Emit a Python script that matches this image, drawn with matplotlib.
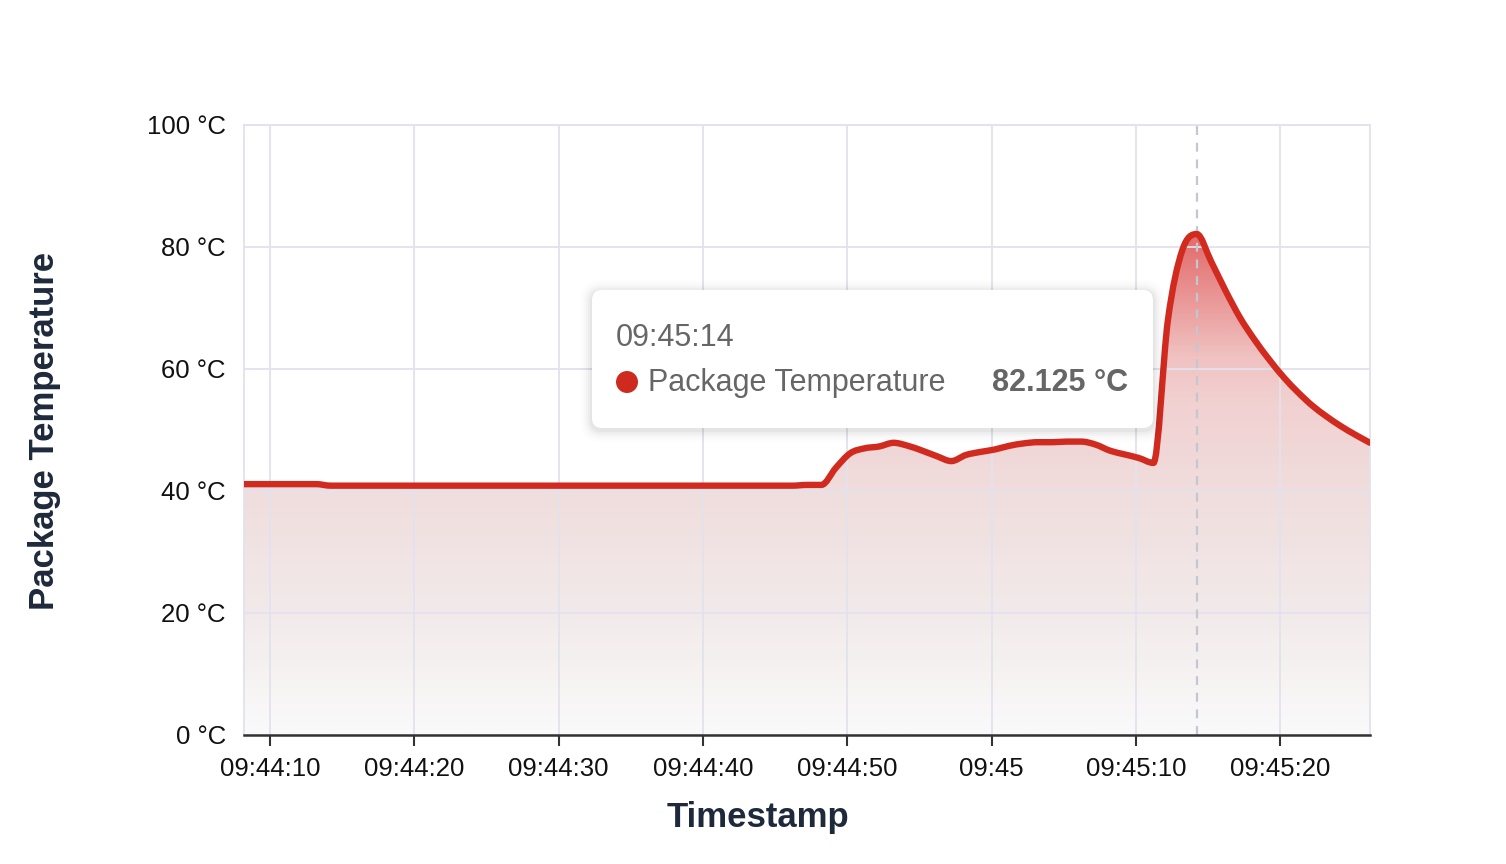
import numpy as np
import matplotlib
matplotlib.use("Agg")
import matplotlib.pyplot as plt
import matplotlib.dates as mdates
from matplotlib.colors import LinearSegmentedColormap
from matplotlib.patches import FancyBboxPatch, Circle, PathPatch
from matplotlib.path import Path
from matplotlib.transforms import IdentityTransform
from datetime import datetime, timedelta

plt.rcParams['font.family'] = ['Liberation Sans', 'DejaVu Sans']

# ---------------- data ----------------
start_time = "2024-01-01 09:44:08.200"
sample_interval_s = 1
temps = [
    41.125, 41.125, 41.125, 41.125, 41.125, 41.125,
    40.875, 40.875, 40.875, 40.875, 40.875, 40.875, 40.875, 40.875, 40.875, 40.875,
    40.875, 40.875, 40.875, 40.875, 40.875, 40.875, 40.875, 40.875, 40.875, 40.875,
    40.875, 40.875, 40.875, 40.875, 40.875, 40.875, 40.875, 40.875, 40.875, 40.875,
    40.875, 40.875, 40.875,
    41.0, 41.0,
    43.8, 46.2, 47.0, 47.3, 47.9, 47.4, 46.6, 45.7, 44.9,
    45.9, 46.4, 46.8, 47.4, 47.8, 48.0, 48.0, 48.1, 48.1, 47.6,
    46.6, 46.0, 45.4, 44.6,
    68.0, 79.5, 82.125, 77.6, 72.8, 68.4, 64.8, 61.6, 58.7, 56.2,
    54.0, 52.2, 50.6, 49.2, 47.9,
]
y_ticks = [0, 20, 40, 60, 80, 100]
series_name = "Package Temperature"
x_title = "Timestamp"
y_title = "Package Temperature"

t0 = datetime.strptime(start_time, "%Y-%m-%d %H:%M:%S.%f")
times = [t0 + timedelta(seconds=i * sample_interval_s) for i in range(len(temps))]
xnum = mdates.date2num(times)
temps_arr = np.array(temps)


def monotone_path(x, y, close_to=None):
    """Cubic Bezier path through the points (monotone tangents, like Chart.js)."""
    n = len(x)
    h = np.diff(x)
    d = np.diff(y) / h
    m = np.zeros(n)
    m[0], m[-1] = d[0], d[-1]
    for k in range(1, n - 1):
        if d[k - 1] * d[k] <= 0:
            m[k] = 0.0
        else:
            m[k] = (d[k - 1] + d[k]) / 2
    for k in range(n - 1):
        if d[k] == 0:
            m[k] = m[k + 1] = 0.0
            continue
        a, b = m[k] / d[k], m[k + 1] / d[k]
        s = a * a + b * b
        if s > 9:
            tau = 3 / np.sqrt(s)
            m[k] = tau * a * d[k]
            m[k + 1] = tau * b * d[k]
    verts = [(x[0], y[0])]
    codes = [Path.MOVETO]
    for k in range(n - 1):
        verts += [(x[k] + h[k] / 3, y[k] + m[k] * h[k] / 3),
                  (x[k + 1] - h[k] / 3, y[k + 1] - m[k + 1] * h[k] / 3),
                  (x[k + 1], y[k + 1])]
        codes += [Path.CURVE4] * 3
    if close_to is not None:
        verts += [(x[-1], close_to), (x[0], close_to), (x[0], y[0])]
        codes += [Path.LINETO, Path.LINETO, Path.CLOSEPOLY]
    return Path(verts, codes)


# ---------------- figure ----------------
W, H = 1506, 864
fig = plt.figure(figsize=(W / 100, H / 100), dpi=100)
ax = fig.add_axes([244 / W, 1 - 735 / H, (1370 - 244) / W, (735 - 125) / H])

ax.set_xlim(xnum[0], xnum[-1])
ax.set_ylim(0, 100)

# gradient fill under the line
grad_cmap = LinearSegmentedColormap.from_list("g", [
    (0.00, "#fafafa"),
    (0.20, "#f2eaea"),
    (0.40, "#f0dddd"),
    (0.55, "#f2d0d0"),
    (0.62, "#f0c2c2"),
    (0.70, "#eb9e9e"),
    (0.80, "#e47272"),
    (1.00, "#db4c4c"),
])
grad = np.linspace(0, 1, 512).reshape(-1, 1)
im = ax.imshow(grad, cmap=grad_cmap, aspect="auto", origin="lower",
               extent=[xnum[0], xnum[-1], 0, 100], zorder=1, interpolation="bilinear")
fill_path = monotone_path(xnum, temps_arr, close_to=0)
im.set_clip_path(fill_path, transform=ax.transData)

# grid
ax.set_axisbelow("line")
ax.grid(True, color="#e2e2ee", lw=1.3)

# line (smooth curve through the samples)
line = PathPatch(monotone_path(xnum, temps_arr), facecolor="none", edgecolor="#d12b20",
                 lw=4.6, joinstyle="round", capstyle="round", zorder=4)
ax.add_patch(line)

# hover dashed line at peak
peak_i = int(np.argmax(temps_arr))
ax.axvline(xnum[peak_i], color="#c3c7cf", lw=1.6, ls=(0, (4, 3.5)), zorder=3)

# axes styling
for s in ("top", "right", "left"):
    ax.spines[s].set_color("#e2e2ee")
    ax.spines[s].set_linewidth(1.3)
ax.spines["bottom"].set_color("#333333")
ax.spines["bottom"].set_linewidth(1.8)
ax.spines["bottom"].set_zorder(5)

ax.set_yticks(y_ticks)
ax.set_yticklabels([f"{v} °C" for v in y_ticks])
ax.tick_params(axis="y", length=0, pad=13, labelsize=18.5, labelcolor="#111111")

ax.xaxis.set_major_locator(mdates.SecondLocator(bysecond=range(0, 60, 10)))


def fmt(x, pos=None):
    d = mdates.num2date(x)
    secs = int(round(d.second + d.microsecond / 1e6)) % 60
    if secs == 0:
        return d.strftime("%H:%M") if d.second == 0 else (d + timedelta(seconds=1)).strftime("%H:%M")
    return d.strftime("%H:%M") + f":{secs:02d}"


ax.xaxis.set_major_formatter(plt.FuncFormatter(fmt))
ax.tick_params(axis="x", length=8, width=1.5, color="#333333", pad=7.5,
               labelsize=18.5, labelcolor="#111111")

# axis titles
fig.text(45 / W, 1 - 431 / H, y_title, rotation=90, ha="center", va="center",
         fontsize=25, fontweight="bold", color="#1e2a3b")
fig.text(758 / W, 1 - 818 / H, x_title, ha="center", va="center",
         fontsize=25, fontweight="bold", color="#1e2a3b")

# tooltip (pixel coordinates, origin bottom-left)
idt = IdentityTransform()
bx0, by0, bx1, by1 = 592, H - 428, 1153, H - 290
for k, a in enumerate([0.03, 0.024, 0.018, 0.013, 0.009, 0.006]):
    g = (k + 1) * 2.0
    sh = FancyBboxPatch((bx0 - g, by0 - g - 2), (bx1 - bx0) + 2 * g, (by1 - by0) + 2 * g,
                        boxstyle=f"round,pad=0,rounding_size={10 + g}",
                        transform=idt, facecolor="black", edgecolor="none", alpha=a,
                        zorder=9)
    fig.add_artist(sh)
box = FancyBboxPatch((bx0, by0), bx1 - bx0, by1 - by0,
                     boxstyle="round,pad=0,rounding_size=10",
                     transform=idt, facecolor="white", edgecolor="none",
                     zorder=10)
fig.add_artist(box)
fig.add_artist(Circle((627, H - 382), 11, transform=idt, facecolor="#cf2a1f",
                      edgecolor="none", zorder=11))
peak_label = mdates.num2date(xnum[peak_i]).strftime("%H:%M:%S")
fig.text(616, H - 338, peak_label, transform=idt, ha="left", va="center",
         fontsize=22, color="#666666", zorder=11)
fig.text(648, H - 383, series_name, transform=idt, ha="left", va="center",
         fontsize=22, color="#666666", zorder=11)
fig.text(1128, H - 383, f"{temps_arr[peak_i]:.3f} °C", transform=idt, ha="right",
         va="center", fontsize=22, fontweight="bold", color="#666666", zorder=11)

fig.savefig("out.png", dpi=100, facecolor="white")
